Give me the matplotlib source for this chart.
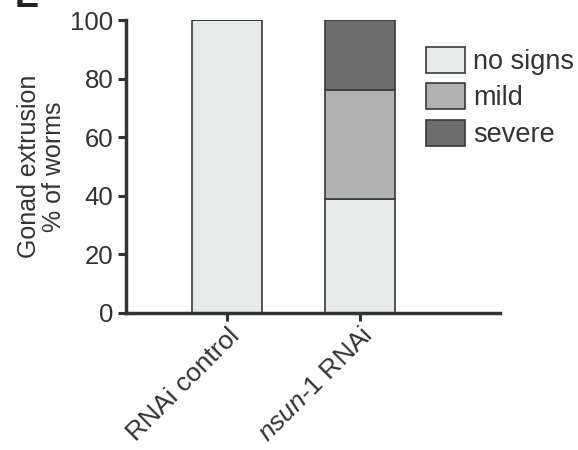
import matplotlib
matplotlib.use("Agg")
import matplotlib.pyplot as plt
from matplotlib.patches import Patch

plt.rcParams['font.family'] = ['Liberation Sans', 'DejaVu Sans']
plt.rcParams['mathtext.fontset'] = 'custom'
plt.rcParams['mathtext.it'] = 'Liberation Sans:italic'
plt.rcParams['mathtext.rm'] = 'Liberation Sans'

categories = ['RNAi control', '$\\it{nsun}$-$\\it{1}$ RNAi']
series_names = ['no signs', 'mild', 'severe']
no_signs = [100, 39]
mild = [0, 37]
severe = [0, 24]
colors = ['#e9ebeb', '#b1b1b1', '#6d6d6d']
yticks = [0, 20, 40, 60, 80, 100]

dark = '#333333'
fig = plt.figure(figsize=(5.78, 4.5), dpi=100)
ax = fig.add_axes([126/578, 1-313/450, (500-126)/578, (313-20)/450])

x = list(range(len(categories)))
bottom = [0]*len(categories)
handles = []
for vals, name, c in zip([no_signs, mild, severe], series_names, colors):
    ax.bar(x, vals, width=0.52, bottom=bottom, color=c, edgecolor='#3a3a3a', linewidth=1.2, zorder=2)
    bottom = [b+v for b, v in zip(bottom, vals)]
    handles.append(Patch(facecolor=c, edgecolor='#3a3a3a', linewidth=1.2, label=name))

ax.set_xlim(-0.76, 2.053)
ax.set_ylim(0, 100)
ax.set_yticks(yticks)
ax.set_xticks(x)
ax.set_xticklabels(categories, rotation=45, ha='right', rotation_mode='anchor', fontsize=19, color=dark)
ax.tick_params(axis='y', labelsize=18.5, labelcolor=dark, length=6, width=2.2, color=dark, pad=3)
ax.tick_params(axis='x', length=6, width=2.2, color=dark, pad=1.5)
for s in ['top', 'right']:
    ax.spines[s].set_visible(False)
for s in ['left', 'bottom']:
    ax.spines[s].set_linewidth(2.5)
    ax.spines[s].set_color(dark)
ax.set_ylabel('Gonad extrusion\n% of worms', fontsize=18, color=dark, linespacing=1.05, labelpad=3)

leg = ax.legend(handles=handles, loc='upper left', bbox_to_anchor=(0.802, 0.908), frameon=False,
                fontsize=19.5, handlelength=1.45, handleheight=1.1, handletextpad=0.3,
                labelspacing=0.3, borderaxespad=0, borderpad=0)
for t in leg.get_texts():
    t.set_color(dark)

fig.text(0.025, 1-7/450, 'E', fontsize=26, fontweight='bold', va='baseline', color='#222222')

fig.savefig('out.png', dpi=100)
